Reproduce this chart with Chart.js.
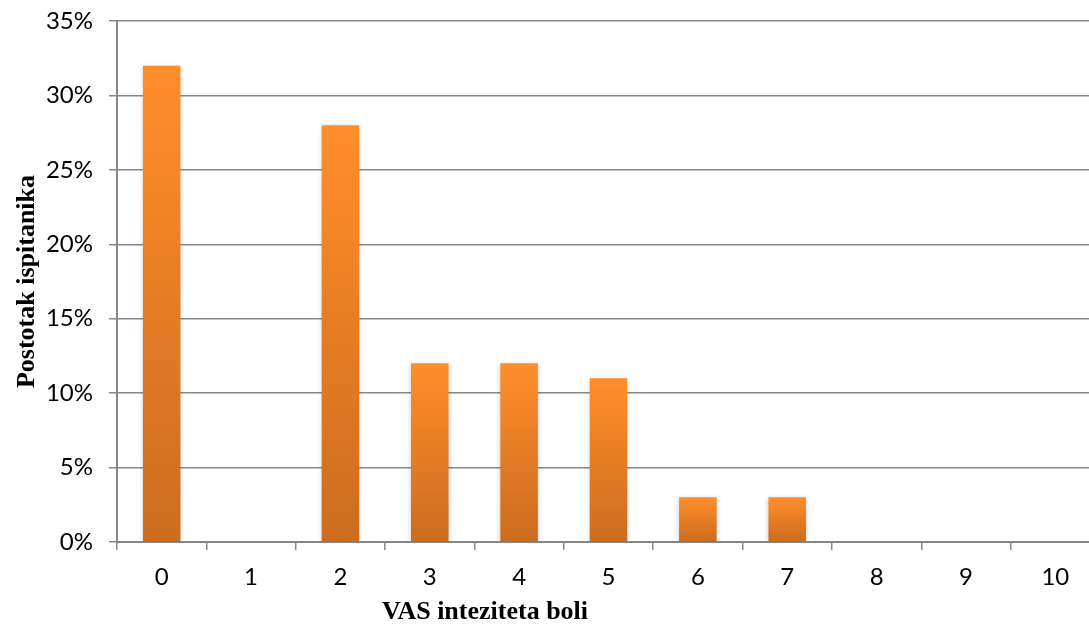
<!DOCTYPE html>
<html>
<head>
<meta charset="utf-8">
<script src="https://cdn.jsdelivr.net/npm/chart.js@4.4.1/dist/chart.umd.min.js"></script>
<style>
  html, body { margin: 0; padding: 0; background: #fff; overflow: hidden; }
  #wrap { width: 1100px; height: 632px; position: relative; }
</style>
</head>
<body>
<div id="wrap"><canvas id="vasChart"></canvas></div>
<script>
// Podaci s grafikona
const vasLabels = ['0', '1', '2', '3', '4', '5', '6', '7', '8', '9', '10'];
const postotci = [32, 0, 28, 12, 12, 11, 3, 3, 0, 0, 0];
const yTicks = [0, 5, 10, 15, 20, 25, 30, 35];
const xNaslov = 'VAS inteziteta boli';

const osiBoja = '#878787';

// gradijent po stupcu: svjetliji gore, tamniji dolje
function bojaStupca(context) {
    const chart = context.chart;
    const y = chart.scales.y;
    if (!y || context.raw === undefined) return '#F7902C';
    const top = y.getPixelForValue(context.raw);
    const base = y.getPixelForValue(0);
    if (!Number.isFinite(top) || !Number.isFinite(base) || base - top < 1) return '#F7902C';
    const g = chart.ctx.createLinearGradient(0, top, 0, base);
    g.addColorStop(0, '#FF8E2B');
    g.addColorStop(1, '#CC6C1F');
    return g;
}

// lagana sjena oko stupaca + naslov x osi (nije centriran kao u originalu)
const dodaci = {
    id: 'dodaci',
    beforeDatasetsDraw(chart) {
        const c = chart.ctx;
        c.save();
        c.shadowColor = 'rgba(0,0,0,0.22)';
        c.shadowBlur = 5;
        c.shadowOffsetX = 0;
        c.shadowOffsetY = 1;
    },
    afterDatasetsDraw(chart) {
        chart.ctx.restore();
    },
    afterDraw(chart) {
        const c = chart.ctx;
        c.save();
        c.font = 'bold 26px "Liberation Serif"';
        c.fillStyle = '#000';
        c.textAlign = 'center';
        c.textBaseline = 'middle';
        c.fillText(xNaslov, chart.chartArea.left + 368, 612);
        c.restore();
    }
};

const ctx = document.getElementById('vasChart').getContext('2d');
const vasChart = new Chart(ctx, {
    type: 'bar',
    data: {
        labels: vasLabels,
        datasets: [{
            data: postotci,
            backgroundColor: bojaStupca,
            borderWidth: 0,
            barPercentage: 0.42,
            categoryPercentage: 1
        }]
    },
    options: {
        responsive: true,
        maintainAspectRatio: false,
        animation: false,
        layout: { autoPadding: false, padding: { left: 0, top: 21, right: 0, bottom: 0 } },
        plugins: {
            legend: { display: false },
            tooltip: { enabled: false }
        },
        scales: {
            x: {
                offset: true,
                grid: {
                    offset: true,
                    drawOnChartArea: false,
                    drawTicks: true,
                    tickLength: 8,
                    color: osiBoja,
                    lineWidth: 1.5
                },
                border: { color: osiBoja, width: 2 },
                ticks: {
                    color: '#000',
                    padding: 13,
                    font: { family: 'Lato', size: 24 }
                },
                afterFit: function (scale) {
                    scale.height = 90;
                    scale.paddingLeft = 0;
                    scale.paddingRight = 0;
                }
            },
            y: {
                min: 0,
                max: 35,
                afterBuildTicks: function (scale) {
                    scale.ticks = yTicks.map(v => ({ value: v }));
                },
                grid: {
                    color: osiBoja,
                    lineWidth: 1.5,
                    drawTicks: true,
                    tickLength: 8
                },
                border: { color: osiBoja, width: 2 },
                ticks: {
                    color: '#000',
                    padding: 16,
                    font: { family: 'Lato', size: 24 },
                    callback: (v) => v + '%'
                },
                title: {
                    display: true,
                    text: 'Postotak ispitanika',
                    color: '#000',
                    padding: { top: 12, bottom: 0 },
                    font: { family: 'Liberation Serif', size: 26, weight: 'bold' }
                },
                afterFit: function (scale) {
                    scale.width = 117;
                    scale.paddingTop = 0;
                    scale.paddingBottom = 0;
                }
            }
        }
    },
    plugins: [dodaci]
});
</script>
</body>
</html>
